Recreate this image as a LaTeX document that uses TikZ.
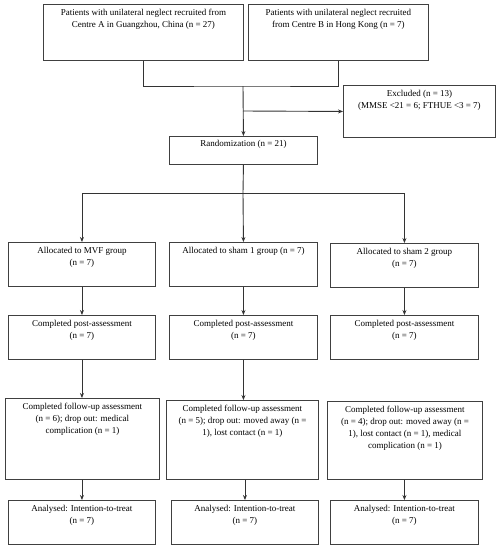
\documentclass[tikz,border=0pt]{standalone}
\usepackage{fontspec}
\setmainfont{Liberation Serif}
\usetikzlibrary{arrows.meta}
\begin{document}
\begin{tikzpicture}[x=1pt,y=-1pt,
  box/.style={draw=black!75,line width=0.9pt,rectangle,inner sep=0pt,anchor=north west},
  txt/.style={anchor=north,inner sep=0pt,align=center,font=\fontsize{9}{12}\selectfont,yshift=-5pt},
  arr/.style={draw=black!80,line width=0.9pt,-{Stealth[length=5pt,width=4pt]}},
  ln/.style={draw=black!80,line width=0.9pt}]
\useasboundingbox (0,0) rectangle (502,550);
% top
\node[box,minimum width=200pt,minimum height=56pt] (A) at (43,4) {};
\node[txt] (At) at (A.north) {Patients with unilateral neglect recruited from\\Centre A in Guangzhou, China (n = 27)};
\node[box,minimum width=180pt,minimum height=56pt] (B) at (248,4) {};
\node[txt] (Bt) at (B.north) {Patients with unilateral neglect recruited\\from Centre B in Hong Kong (n = 7)};
\node[box,minimum width=152pt,minimum height=52pt] (E) at (343,85) {};
\node[txt] (Et) at (E.north) {Excluded (n = 13)\\(MMSE <21 = 6; FTHUE <3 = 7)};
\node[box,minimum width=148pt,minimum height=28pt] (R) at (169,136) {};
\node[txt,yshift=1pt] (Rt) at (R.north) {Randomization (n = 21)};
% columns
\node[box,minimum width=147pt,minimum height=44pt] (L1) at (8,242) {};
\node[txt] (L1t) at (L1.north) {Allocated to MVF group\\(n = 7)};
\node[box,minimum width=148pt,minimum height=44pt] (L2) at (169,242) {};
\node[txt] (L2t) at (L2.north) {Allocated to sham 1 group (n = 7)};
\node[box,minimum width=148pt,minimum height=44pt] (L3) at (330,243) {};
\node[txt] (L3t) at (L3.north) {Allocated to sham 2 group\\(n = 7)};
\node[box,minimum width=147pt,minimum height=44pt] (P1) at (8,315) {};
\node[txt] (P1t) at (P1.north) {Completed post-assessment\\(n = 7)};
\node[box,minimum width=148pt,minimum height=44pt] (P2) at (169,315) {};
\node[txt] (P2t) at (P2.north) {Completed post-assessment\\(n = 7)};
\node[box,minimum width=148pt,minimum height=44pt] (P3) at (330,315) {};
\node[txt] (P3t) at (P3.north) {Completed post-assessment\\(n = 7)};
\node[box,minimum width=154pt,minimum height=81pt] (F1) at (5,398) {};
\node[txt] (F1t) at (F1.north) {Completed follow-up assessment\\(n = 6); drop out: medical\\complication (n = 1)};
\node[box,minimum width=152pt,minimum height=79pt] (F2) at (166,400) {};
\node[txt] (F2t) at (F2.north) {Completed follow-up assessment\\(n = 5); drop out: moved away (n =\\1), lost contact (n = 1)};
\node[box,minimum width=155pt,minimum height=78pt] (F3) at (327,401) {};
\node[txt] (F3t) at (F3.north) {Completed follow-up assessment\\(n = 4); drop out: moved away (n =\\1), lost contact (n = 1), medical\\complication (n = 1)};
\node[box,minimum width=147pt,minimum height=44pt] (N1) at (8,500) {};
\node[txt] (N1t) at (N1.north) {Analysed: Intention-to-treat\\(n = 7)};
\node[box,minimum width=147pt,minimum height=44pt] (N2) at (171,500) {};
\node[txt] (N2t) at (N2.north) {Analysed: Intention-to-treat\\(n = 7)};
\node[box,minimum width=148pt,minimum height=44pt] (N3) at (330,500) {};
\node[txt] (N3t) at (N3.north) {Analysed: Intention-to-treat\\(n = 7)};
% connectors
\coordinate (J) at (243,86);
\coordinate (K) at (243,111);
\coordinate (S) at (243,193);
\draw[ln] (A.south) |- (J) -| (B.south);
\draw[arr] (J) -- (R.north);
\draw[arr] (K) -- (E.west);
\draw[ln] (R.south) -- (S);
\draw[arr] (S) -| (L1.north);
\draw[arr] (S) -| (L3.north);
\draw[arr] (S) -- (L2.north);
\draw[arr] (L1.south) -- (P1.north);
\draw[arr] (L2.south) -- (P2.north);
\draw[arr] (L3.south) -- (P3.north);
\draw[arr] (P1.south) -- (P1.south |- F1.north);
\draw[arr] (P2.south) -- (P2.south |- F2.north);
\draw[arr] (F1.south -| N1.north) -- (N1.north);
\draw[arr] (F2.south -| N2.north) -- (N2.north);
\draw[arr] (F3.south -| N3.north) -- (N3.north);
\end{tikzpicture}
\end{document}
